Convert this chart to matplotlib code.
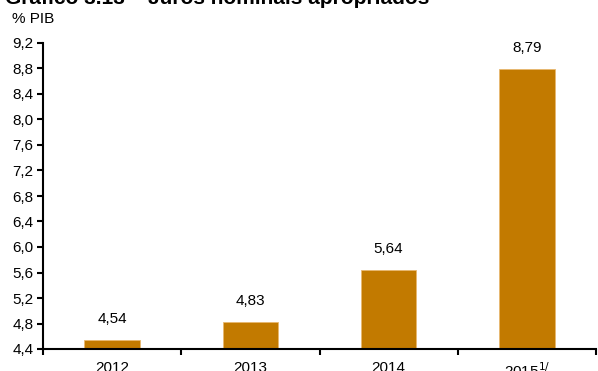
import numpy as np
import matplotlib.pyplot as plt

plt.rcParams['font.family'] = ['Liberation Sans', 'DejaVu Sans']

years = ['2012', '2013', '2014', '2015']
values = [4.54, 4.83, 5.64, 8.79]
value_labels = ['4,54', '4,83', '5,64', '8,79']
y_ticks = [4.4, 4.8, 5.2, 5.6, 6.0, 6.4, 6.8, 7.2, 7.6, 8.0, 8.4, 8.8, 9.2]

fig = plt.figure(figsize=(5.98, 3.71), dpi=100)
ax = fig.add_axes([43 / 598, 1 - 349 / 371, 553 / 598, 306 / 371])

x = np.arange(len(years))
ax.bar(x, values, width=0.4, color='#C27A00', edgecolor='#E8B870', linewidth=0.6, zorder=2)

for xi, v, lab in zip(x, values, value_labels):
    ax.annotate(lab, (xi, v), xytext=(0, 10), textcoords='offset points',
                ha='center', va='bottom', fontsize=11)

ax.set_xlim(-0.5, len(years) - 0.5)
ax.set_ylim(4.4, 9.2)
ax.set_yticks(y_ticks)
ax.set_yticklabels([f'{t:.1f}'.replace('.', ',') for t in y_ticks], fontsize=11)

# x ticks sit on the category boundaries, labels centred under bars
ax.set_xticks(np.arange(-0.5, len(years)), minor=False)
ax.set_xticklabels([])
ax.set_xticks(x, minor=True)
ax.set_xticklabels(years[:-1] + ['2015$^{1/}$'], minor=True, fontsize=11)
ax.tick_params(axis='x', which='major', direction='out', length=4, width=1.5)
ax.tick_params(axis='x', which='minor', length=0, pad=9)
ax.tick_params(axis='y', direction='out', length=4, width=1.5, pad=3)

for side in ['top', 'right']:
    ax.spines[side].set_visible(False)
for side in ['left', 'bottom']:
    ax.spines[side].set_linewidth(1.5)

fig.text(12 / 598, 1 - 19 / 371, '% PIB', fontsize=11, va='center')
fig.text(5 / 598, 1 - 4 / 371, 'Gráfico 3.13 – Juros nominais apropriados',
         fontsize=15, fontweight='bold', va='baseline')

fig.savefig('out.png', dpi=100)
